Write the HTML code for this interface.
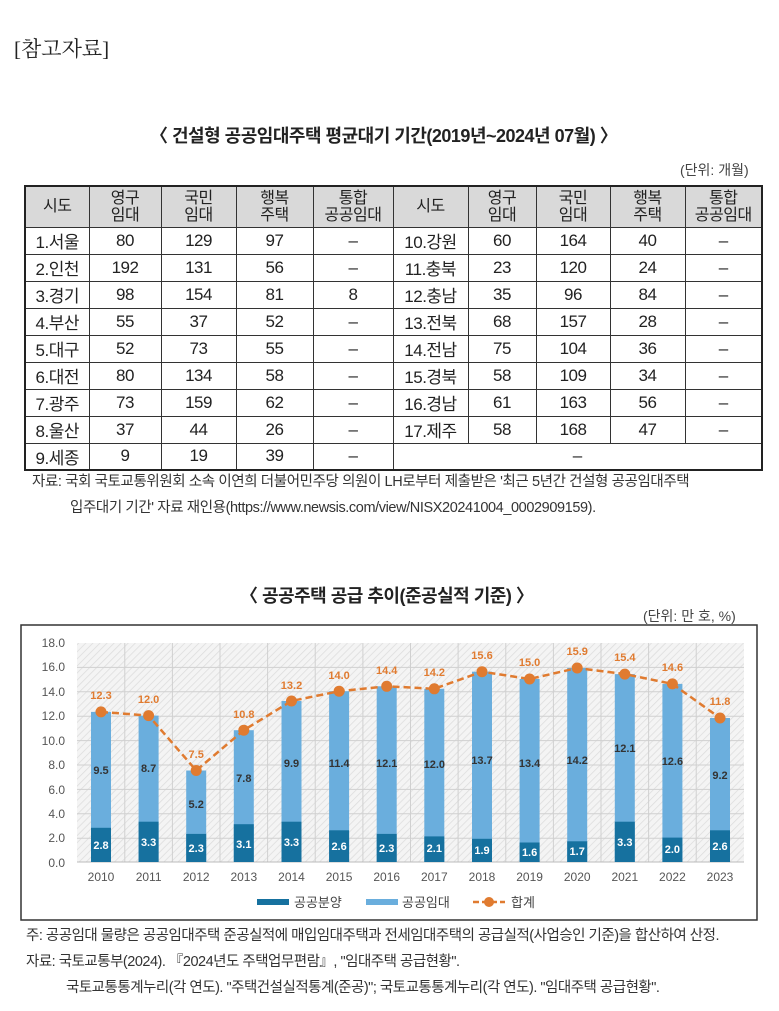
<!DOCTYPE html>
<html><head><meta charset="utf-8"><style>
*{margin:0;padding:0;box-sizing:border-box}
body{width:779px;height:1011px;background:#fff;position:relative;font-family:"Liberation Sans","Noto Sans CJK KR",sans-serif;color:#222;overflow:hidden}
.a{position:absolute;white-space:nowrap}
table{position:absolute;left:24px;top:185px;width:737px;border-collapse:collapse;border:2px solid #222;font-size:17px;table-layout:fixed}
td,th{border:1px solid #333;text-align:center;height:27px;padding:0;font-weight:normal;color:#222;letter-spacing:-0.5px}
th{background:#d9d9d9;height:41px;line-height:17px;font-size:16px}
</style></head><body>
<div class="a" style="left:14px;top:33px;font-family:'Liberation Serif','Noto Serif CJK SC',serif;font-size:21px">[참고자료]</div>
<div class="a" style="left:150px;top:122px;font-size:18px;font-weight:bold;letter-spacing:-0.5px">〈 건설형 공공임대주택 평균대기 기간(2019년~2024년 07월) 〉</div>
<div class="a" style="left:680px;top:160px;font-size:14px;color:#444">(단위: 개월)</div>
<table>
<colgroup><col style="width:64px"><col style="width:72px"><col style="width:75px"><col style="width:77px"><col style="width:80px"><col style="width:75px"><col style="width:68px"><col style="width:74px"><col style="width:75px"><col style="width:77px"></colgroup>
<tr><th>시도</th><th>영구<br>임대</th><th>국민<br>임대</th><th>행복<br>주택</th><th>통합<br>공공임대</th><th>시도</th><th>영구<br>임대</th><th>국민<br>임대</th><th>행복<br>주택</th><th>통합<br>공공임대</th></tr>
<tr><td>1.서울</td><td>80</td><td>129</td><td>97</td><td>–</td><td>10.강원</td><td>60</td><td>164</td><td>40</td><td>–</td></tr>
<tr><td>2.인천</td><td>192</td><td>131</td><td>56</td><td>–</td><td>11.충북</td><td>23</td><td>120</td><td>24</td><td>–</td></tr>
<tr><td>3.경기</td><td>98</td><td>154</td><td>81</td><td>8</td><td>12.충남</td><td>35</td><td>96</td><td>84</td><td>–</td></tr>
<tr><td>4.부산</td><td>55</td><td>37</td><td>52</td><td>–</td><td>13.전북</td><td>68</td><td>157</td><td>28</td><td>–</td></tr>
<tr><td>5.대구</td><td>52</td><td>73</td><td>55</td><td>–</td><td>14.전남</td><td>75</td><td>104</td><td>36</td><td>–</td></tr>
<tr><td>6.대전</td><td>80</td><td>134</td><td>58</td><td>–</td><td>15.경북</td><td>58</td><td>109</td><td>34</td><td>–</td></tr>
<tr><td>7.광주</td><td>73</td><td>159</td><td>62</td><td>–</td><td>16.경남</td><td>61</td><td>163</td><td>56</td><td>–</td></tr>
<tr><td>8.울산</td><td>37</td><td>44</td><td>26</td><td>–</td><td>17.제주</td><td>58</td><td>168</td><td>47</td><td>–</td></tr>
<tr><td>9.세종</td><td>9</td><td>19</td><td>39</td><td>–</td><td colspan="5">–</td></tr>
</table>
<div class="a" style="left:32px;top:470px;font-size:14.5px;color:#333;letter-spacing:-0.4px">자료: 국회 국토교통위원회 소속 이연희 더불어민주당 의원이 LH로부터 제출받은 '최근 5년간 건설형 공공임대주택</div>
<div class="a" style="left:70px;top:496px;font-size:14.5px;color:#333;letter-spacing:-0.4px">입주대기 기간' 자료 재인용(https://www.newsis.com/view/NISX20241004_0002909159).</div>
<div class="a" style="left:240px;top:582px;font-size:18px;font-weight:bold;letter-spacing:-0.5px">〈 공공주택 공급 추이(준공실적 기준) 〉</div>
<div class="a" style="left:643px;top:606px;font-size:14px;color:#444">(단위: 만 호, %)</div>
<svg class="a" style="left:0;top:0" width="779" height="1011" font-family="Liberation Sans,sans-serif">
<defs><pattern id="h" width="5" height="5" patternUnits="userSpaceOnUse" patternTransform="rotate(45)"><rect width="5" height="5" fill="#f4f4f4"/><line x1="0" y1="0" x2="0" y2="5" stroke="#dcdcdc" stroke-width="1.5"/></pattern></defs>
<rect x="21" y="625" width="736" height="295" fill="#fff" stroke="#333" stroke-width="1.5"/>
<rect x="77" y="643" width="667" height="219" fill="url(#h)"/>
<g stroke="#d0d0d0" stroke-width="1">
<line x1="77" x2="744" y1="667.4" y2="667.4"/><line x1="77" x2="744" y1="691.8" y2="691.8"/><line x1="77" x2="744" y1="716.2" y2="716.2"/><line x1="77" x2="744" y1="740.6" y2="740.6"/><line x1="77" x2="744" y1="765" y2="765"/><line x1="77" x2="744" y1="789.4" y2="789.4"/><line x1="77" x2="744" y1="813.8" y2="813.8"/><line x1="77" x2="744" y1="838.2" y2="838.2"/>
<line x1="124.8" x2="124.8" y1="643" y2="862"/><line x1="172.4" x2="172.4" y1="643" y2="862"/><line x1="220" x2="220" y1="643" y2="862"/><line x1="267.6" x2="267.6" y1="643" y2="862"/><line x1="315.2" x2="315.2" y1="643" y2="862"/><line x1="362.9" x2="362.9" y1="643" y2="862"/><line x1="410.5" x2="410.5" y1="643" y2="862"/><line x1="458.1" x2="458.1" y1="643" y2="862"/><line x1="505.8" x2="505.8" y1="643" y2="862"/><line x1="553.4" x2="553.4" y1="643" y2="862"/><line x1="601" x2="601" y1="643" y2="862"/><line x1="648.6" x2="648.6" y1="643" y2="862"/><line x1="696.2" x2="696.2" y1="643" y2="862"/>
</g>
<line x1="77" x2="744" y1="862" y2="862" stroke="#bbb"/>
<g font-size="12" fill="#555" text-anchor="end">
<text x="65" y="647">18.0</text><text x="65" y="671">16.0</text><text x="65" y="696">14.0</text><text x="65" y="720">12.0</text><text x="65" y="745">10.0</text><text x="65" y="769">8.0</text><text x="65" y="794">6.0</text><text x="65" y="818">4.0</text><text x="65" y="842">2.0</text><text x="65" y="867">0.0</text>
</g>
<g fill="#6aaedd">
<rect x="91" y="711.9" width="20" height="150.1"/><rect x="138.6" y="715.6" width="20" height="146.4"/><rect x="186.2" y="770.5" width="20" height="91.5"/><rect x="233.8" y="730.2" width="20" height="131.8"/><rect x="281.5" y="701" width="20" height="161"/><rect x="329.1" y="691.2" width="20" height="170.8"/><rect x="376.7" y="686.3" width="20" height="175.7"/><rect x="424.3" y="688.8" width="20" height="173.2"/><rect x="472" y="671.7" width="20" height="190.3"/><rect x="519.6" y="679" width="20" height="183"/><rect x="567.2" y="668" width="20" height="194"/><rect x="614.8" y="674.1" width="20" height="187.9"/><rect x="662.4" y="683.9" width="20" height="178.1"/><rect x="710" y="718" width="20" height="144"/>
</g>
<g fill="#16719f">
<rect x="91" y="827.8" width="20" height="34.2"/><rect x="138.6" y="821.7" width="20" height="40.3"/><rect x="186.2" y="833.9" width="20" height="28.1"/><rect x="233.8" y="824.2" width="20" height="37.8"/><rect x="281.5" y="821.7" width="20" height="40.3"/><rect x="329.1" y="830.3" width="20" height="31.7"/><rect x="376.7" y="833.9" width="20" height="28.1"/><rect x="424.3" y="836.4" width="20" height="25.6"/><rect x="472" y="838.8" width="20" height="23.2"/><rect x="519.6" y="842.5" width="20" height="19.5"/><rect x="567.2" y="841.3" width="20" height="20.7"/><rect x="614.8" y="821.7" width="20" height="40.3"/><rect x="662.4" y="837.6" width="20" height="24.4"/><rect x="710" y="830.3" width="20" height="31.7"/>
</g>
<g font-size="11" font-weight="bold" fill="#fff" text-anchor="middle">
<text x="101" y="849">2.8</text><text x="148.6" y="846">3.3</text><text x="196.2" y="852">2.3</text><text x="243.8" y="848">3.1</text><text x="291.5" y="846">3.3</text><text x="339.1" y="850">2.6</text><text x="386.7" y="852">2.3</text><text x="434.3" y="852">2.1</text><text x="482" y="854">1.9</text><text x="529.6" y="856">1.6</text><text x="577.2" y="855">1.7</text><text x="624.8" y="846">3.3</text><text x="672.4" y="853">2.0</text><text x="720" y="850">2.6</text>
</g>
<g font-size="11" font-weight="bold" fill="#333" text-anchor="middle">
<text x="101" y="774">9.5</text><text x="148.6" y="772">8.7</text><text x="196.2" y="808">5.2</text><text x="243.8" y="782">7.8</text><text x="291.5" y="767">9.9</text><text x="339.1" y="767">11.4</text><text x="386.7" y="767">12.1</text><text x="434.3" y="768">12.0</text><text x="482" y="764">13.7</text><text x="529.6" y="767">13.4</text><text x="577.2" y="764">14.2</text><text x="624.8" y="752">12.1</text><text x="672.4" y="765">12.6</text><text x="720" y="779">9.2</text>
</g>
<polyline fill="none" stroke="#e07b30" stroke-width="2.5" stroke-dasharray="7,4" points="101,711.9 148.6,715.6 196.2,770.5 243.8,730.2 291.5,701 339.1,691.2 386.7,686.3 434.3,688.8 482,671.7 529.6,679 577.2,668 624.8,674.1 672.4,683.9 720,718"/>
<g fill="#e07b30">
<circle cx="101" cy="711.9" r="5.5"/><circle cx="148.6" cy="715.6" r="5.5"/><circle cx="196.2" cy="770.5" r="5.5"/><circle cx="243.8" cy="730.2" r="5.5"/><circle cx="291.5" cy="701" r="5.5"/><circle cx="339.1" cy="691.2" r="5.5"/><circle cx="386.7" cy="686.3" r="5.5"/><circle cx="434.3" cy="688.8" r="5.5"/><circle cx="482" cy="671.7" r="5.5"/><circle cx="529.6" cy="679" r="5.5"/><circle cx="577.2" cy="668" r="5.5"/><circle cx="624.8" cy="674.1" r="5.5"/><circle cx="672.4" cy="683.9" r="5.5"/><circle cx="720" cy="718" r="5.5"/>
</g>
<g font-size="11" font-weight="bold" fill="#e07b30" text-anchor="middle">
<text x="101" y="699">12.3</text><text x="148.6" y="703">12.0</text><text x="196.2" y="758">7.5</text><text x="243.8" y="718">10.8</text><text x="291.5" y="689">13.2</text><text x="339.1" y="679">14.0</text><text x="386.7" y="674">14.4</text><text x="434.3" y="676">14.2</text><text x="482" y="659">15.6</text><text x="529.6" y="666">15.0</text><text x="577.2" y="655">15.9</text><text x="624.8" y="661">15.4</text><text x="672.4" y="671">14.6</text><text x="720" y="705">11.8</text>
</g>
<g font-size="12" fill="#555" text-anchor="middle">
<text x="101" y="881">2010</text><text x="148.6" y="881">2011</text><text x="196.2" y="881">2012</text><text x="243.8" y="881">2013</text><text x="291.5" y="881">2014</text><text x="339.1" y="881">2015</text><text x="386.7" y="881">2016</text><text x="434.3" y="881">2017</text><text x="482" y="881">2018</text><text x="529.6" y="881">2019</text><text x="577.2" y="881">2020</text><text x="624.8" y="881">2021</text><text x="672.4" y="881">2022</text><text x="720" y="881">2023</text>
</g>
<rect x="257" y="899" width="32" height="6" fill="#16719f"/>
<text x="294" y="907" font-size="13" fill="#444" font-family="Liberation Sans,Noto Sans CJK KR,sans-serif">공공분양</text>
<rect x="366" y="899" width="32" height="6" fill="#6aaedd"/>
<text x="402" y="907" font-size="13" fill="#444" font-family="Liberation Sans,Noto Sans CJK KR,sans-serif">공공임대</text>
<line x1="473" x2="505" y1="902" y2="902" stroke="#e07b30" stroke-width="2.5" stroke-dasharray="6,3"/>
<circle cx="489" cy="902" r="5" fill="#e07b30"/>
<text x="511" y="907" font-size="13" fill="#444" font-family="Liberation Sans,Noto Sans CJK KR,sans-serif">합계</text>
</svg>
<div class="a" style="left:26px;top:924px;font-size:14.5px;color:#333;letter-spacing:-0.5px">주: 공공임대 물량은 공공임대주택 준공실적에 매입임대주택과 전세임대주택의 공급실적(사업승인 기준)을 합산하여 산정.</div>
<div class="a" style="left:26px;top:950px;font-size:14.5px;color:#333;letter-spacing:-0.5px">자료: 국토교통부(2024). 『2024년도 주택업무편람』, "임대주택 공급현황".</div>
<div class="a" style="left:66px;top:976px;font-size:14.5px;color:#333;letter-spacing:-0.5px">국토교통통계누리(각 연도). "주택건설실적통계(준공)"; 국토교통통계누리(각 연도). "임대주택 공급현황".</div>
</body></html>
